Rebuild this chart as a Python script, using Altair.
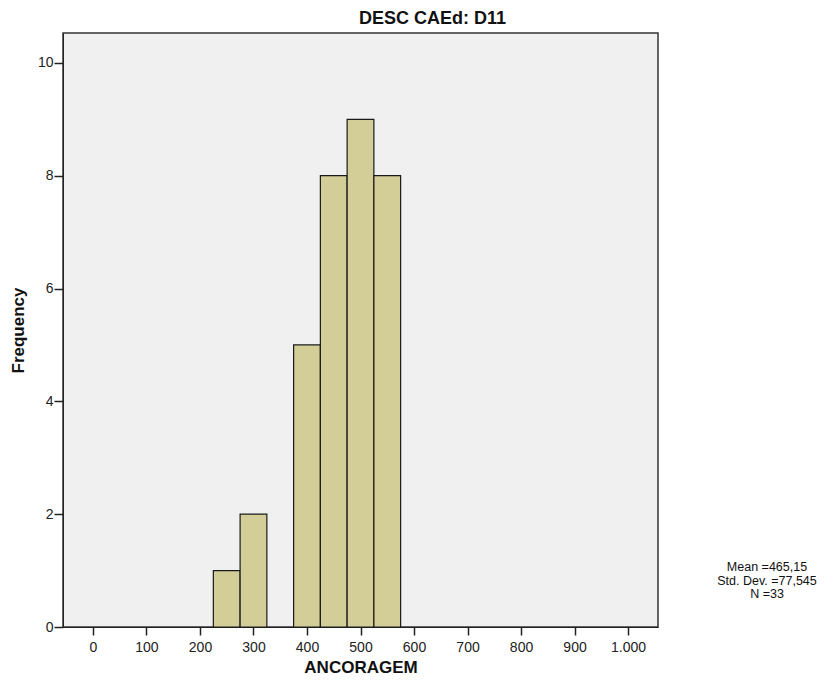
import altair as alt
import pandas as pd

bin_start = [225, 275, 375, 425, 475, 525]
bin_end = [275, 325, 425, 475, 525, 575]
counts = [1, 2, 5, 8, 9, 8]
x_ticks = [0, 100, 200, 300, 400, 500, 600, 700, 800, 900, 1000]
y_ticks = [0, 2, 4, 6, 8, 10]
stats_lines = ["Mean =465,15", "Std. Dev. =77,545", "N =33"]

df = pd.DataFrame({"start": bin_start, "end": bin_end, "count": counts})
FONT = "Liberation Sans"

bars = alt.Chart(df).mark_rect(
    fill="#D3CE98", stroke="#1a1a1a", strokeWidth=1.2
).encode(
    x=alt.X("start:Q",
            scale=alt.Scale(domain=[-56, 1056], nice=False, zero=False),
            axis=alt.Axis(values=x_ticks, title="ANCORAGEM", grid=False,
                          labelExpr="datum.value == 1000 ? '1.000' : datum.label",
                          tickSize=8, tickColor="#222", domainColor="#222",
                          tickWidth=1.5,
                          labelFont=FONT, labelFontSize=14, labelColor="#222",
                          labelPadding=5, titleFont=FONT, titleFontSize=17,
                          titleFontWeight="bold", titleColor="#111", titlePadding=5)),
    x2="end:Q",
    y=alt.Y("count:Q",
            scale=alt.Scale(domain=[0, 10.53], nice=False),
            axis=alt.Axis(values=y_ticks, title="Frequency", grid=False,
                          tickSize=9, tickColor="#222", domainColor="#222",
                          tickWidth=1.5,
                          labelFont=FONT, labelFontSize=14, labelColor="#222",
                          labelPadding=1, titleFont=FONT, titleFontSize=17,
                          titleFontWeight="bold", titleColor="#111", titlePadding=10)),
    y2=alt.datum(0),
)

stats = alt.Chart(pd.DataFrame({"t": ["\n".join(stats_lines)]})).mark_text(
    font=FONT, fontSize=12.5, color="#111", align="center", baseline="top",
    lineBreak="\n", lineHeight=13.5
).encode(
    x=alt.value(704),
    y=alt.value(528),
    text="t:N",
)

chart = alt.layer(bars, stats).properties(
    width=595, height=594,
    title=alt.TitleParams("DESC CAEd: D11", font=FONT, fontSize=18,
                          fontWeight="bold", color="#111", anchor="middle",
                          offset=5, dx=72),
    autosize=alt.AutoSizeParams(type="none"),
    padding={"left": 55, "top": 25, "right": 166, "bottom": 50},
    background="white",
).configure_view(
    fill="#F0F0F0", stroke="#333", strokeWidth=1.5
)

chart.save("out.html", embed_options={"renderer": "svg", "actions": False})
